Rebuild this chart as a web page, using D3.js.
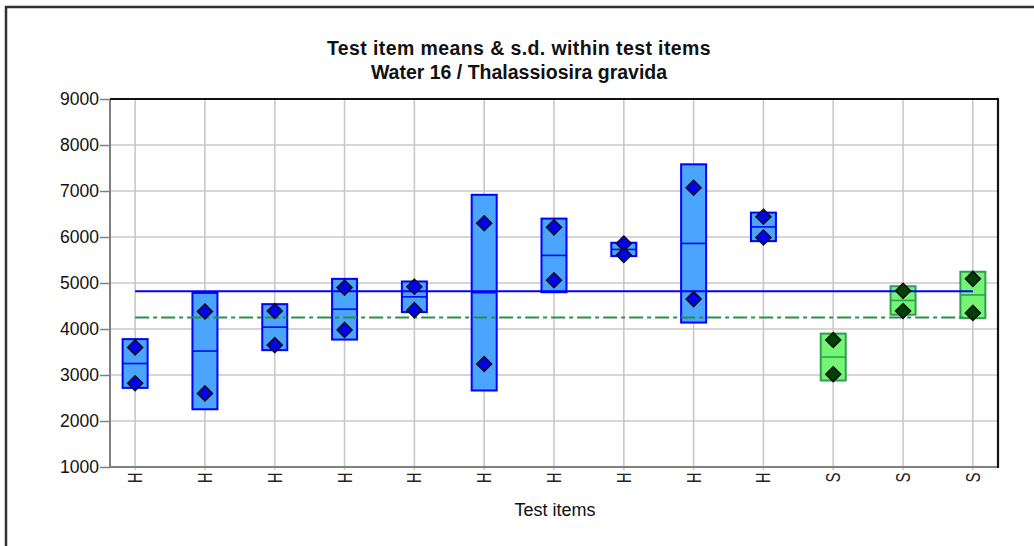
<!DOCTYPE html>
<html>
<head>
<meta charset="utf-8">
<script src="https://cdn.jsdelivr.net/npm/d3@7"></script>
<style>
  html, body { margin: 0; padding: 0; background: #fff; }
  svg { display: block; font-family: "Liberation Sans", Arial, sans-serif; }
</style>
</head>
<body>
<svg id="chart" width="1034" height="546"></svg>
<script>
// ---- data ----
const titleLines = ["Test item means & s.d. within test items", "Water 16 / Thalassiosira gravida"];
const xTitle = "Test items";
const itemLabels = ["H","H","H","H","H","H","H","H","H","H","S","S","S"];
const itemGroups = ["hom","hom","hom","hom","hom","hom","hom","hom","hom","hom","stab","stab","stab"];
const means = [3250, 3520, 4040, 4430, 4700, 4790, 5600, 5730, 5860, 6220, 3390, 4620, 4740];
const sds   = [530, 1265, 500, 660, 333, 2127, 800, 145, 1720, 310, 510, 310, 505];
const rep1  = [3600, 4380, 4390, 4900, 4920, 6300, 6210, 5860, 7070, 6440, 3760, 4830, 5090];
const rep2  = [2820, 2600, 3650, 3980, 4410, 3240, 5060, 5610, 4650, 5990, 3015, 4390, 4350];
const overallMean = 4820;
const refValue = 4250;
const yTicks = [1000, 2000, 3000, 4000, 5000, 6000, 7000, 8000, 9000];

// ---- layout ----
const svg = d3.select("#chart");
const L = 110, R = 998, T = 99, B = 467;

const x = d3.scalePoint().domain(d3.range(itemLabels.length)).range([L, R]).padding(0.36);
const y = d3.scaleLinear().domain([1000, 9000]).range([B, T]);

const colors = {
  hom:  { fill: "#4ba5ff", stroke: "#0000ff", dot: "#0000f0" },
  stab: { fill: "#74f574", stroke: "#2f9f4f", dot: "#004000" }
};

// outer frame
svg.append("path").attr("d", `M6,546 L6,7 L1034,7`).attr("fill", "none")
  .attr("stroke", "#333").attr("stroke-width", 2.5);

// gridlines
const g = svg.append("g");
g.selectAll(".hg").data(yTicks.filter(v => v > 1000 && v < 9000)).join("line")
  .attr("x1", L).attr("x2", R).attr("y1", d => y(d)).attr("y2", d => y(d))
  .attr("stroke", "#c8c8c8").attr("stroke-width", 1.6);
g.selectAll(".vg").data(d3.range(itemLabels.length)).join("line")
  .attr("x1", d => x(d)).attr("x2", d => x(d)).attr("y1", T).attr("y2", B + 3)
  .attr("stroke", "#c8c8c8").attr("stroke-width", 1.6);

// axes
const yAxis = svg.append("g").attr("transform", `translate(${L},0)`)
  .call(d3.axisLeft(y).tickValues(yTicks).tickSize(10).tickPadding(1).tickFormat(d3.format("d")));
yAxis.select(".domain").remove();
yAxis.selectAll(".tick line").attr("stroke", "#808080").attr("stroke-width", 1.5);
yAxis.selectAll(".tick text").attr("font-size", 17.5).attr("fill", "#111")
  .attr("font-family", "Liberation Sans, Arial, sans-serif");

svg.append("line").attr("x1", L).attr("x2", L).attr("y1", T).attr("y2", B + 1)
  .attr("stroke", "#808080").attr("stroke-width", 2);
svg.append("line").attr("x1", L).attr("x2", R).attr("y1", B).attr("y2", B)
  .attr("stroke", "#808080").attr("stroke-width", 2);
svg.append("line").attr("x1", L).attr("x2", R + 1).attr("y1", T).attr("y2", T)
  .attr("stroke", "#111").attr("stroke-width", 2.2);
svg.append("line").attr("x1", R).attr("x2", R).attr("y1", T).attr("y2", B + 1)
  .attr("stroke", "#111").attr("stroke-width", 2.2);

// x labels (rotated)
svg.append("g").selectAll("text").data(itemLabels).join("text")
  .attr("transform", (d, i) => `translate(${x(i) + 7},${B + 5.5}) rotate(-90) scale(1,1.35)`)
  .attr("text-anchor", "end")
  .attr("font-size", 15).attr("fill", "#222").text(d => d);

// boxes
const half = 12.5;
const boxes = svg.append("g").selectAll("g").data(means).join("g");
boxes.append("rect")
  .attr("x", (d, i) => x(i) - half).attr("width", half * 2)
  .attr("y", (d, i) => y(d + sds[i])).attr("height", (d, i) => y(d - sds[i]) - y(d + sds[i]))
  .attr("fill", (d, i) => colors[itemGroups[i]].fill)
  .attr("stroke", (d, i) => colors[itemGroups[i]].stroke).attr("stroke-width", 2);
boxes.append("line")
  .attr("x1", (d, i) => x(i) - half).attr("x2", (d, i) => x(i) + half)
  .attr("y1", d => y(d)).attr("y2", d => y(d))
  .attr("stroke", (d, i) => colors[itemGroups[i]].stroke).attr("stroke-width", 1.6);

// reference lines
svg.append("line").attr("x1", x(0)).attr("x2", x(itemLabels.length - 1))
  .attr("y1", y(overallMean)).attr("y2", y(overallMean))
  .attr("stroke", "#0000ff").attr("stroke-width", 2);
svg.append("line").attr("x1", x(0)).attr("x2", x(itemLabels.length - 1))
  .attr("y1", y(refValue)).attr("y2", y(refValue))
  .attr("stroke", "#2a8f4a").attr("stroke-width", 2).attr("stroke-dasharray", "14,4,4,4");

// replicate diamonds
const reps = [];
rep1.forEach((v, i) => reps.push({ i, v }));
rep2.forEach((v, i) => reps.push({ i, v }));
const ds = 7.5;
svg.append("g").selectAll("path").data(reps).join("path")
  .attr("d", d => { const cx = x(d.i), cy = y(d.v);
    return `M${cx},${cy - ds} L${cx + ds},${cy} L${cx},${cy + ds} L${cx - ds},${cy} Z`; })
  .attr("fill", d => colors[itemGroups[d.i]].dot)
  .attr("stroke", "#111").attr("stroke-width", 1.5);

// titles
svg.append("text").attr("x", 519).attr("y", 55).attr("text-anchor", "middle")
  .attr("font-size", 19.5).attr("font-weight", "bold").attr("letter-spacing", 0.4)
  .attr("fill", "#111").text(titleLines[0]);
svg.append("text").attr("x", 519).attr("y", 79).attr("text-anchor", "middle")
  .attr("font-size", 19.5).attr("font-weight", "bold").attr("fill", "#111").text(titleLines[1]);
svg.append("text").attr("x", 555).attr("y", 516).attr("text-anchor", "middle")
  .attr("font-size", 18).attr("fill", "#111").text(xTitle);
</script>
</body>
</html>
